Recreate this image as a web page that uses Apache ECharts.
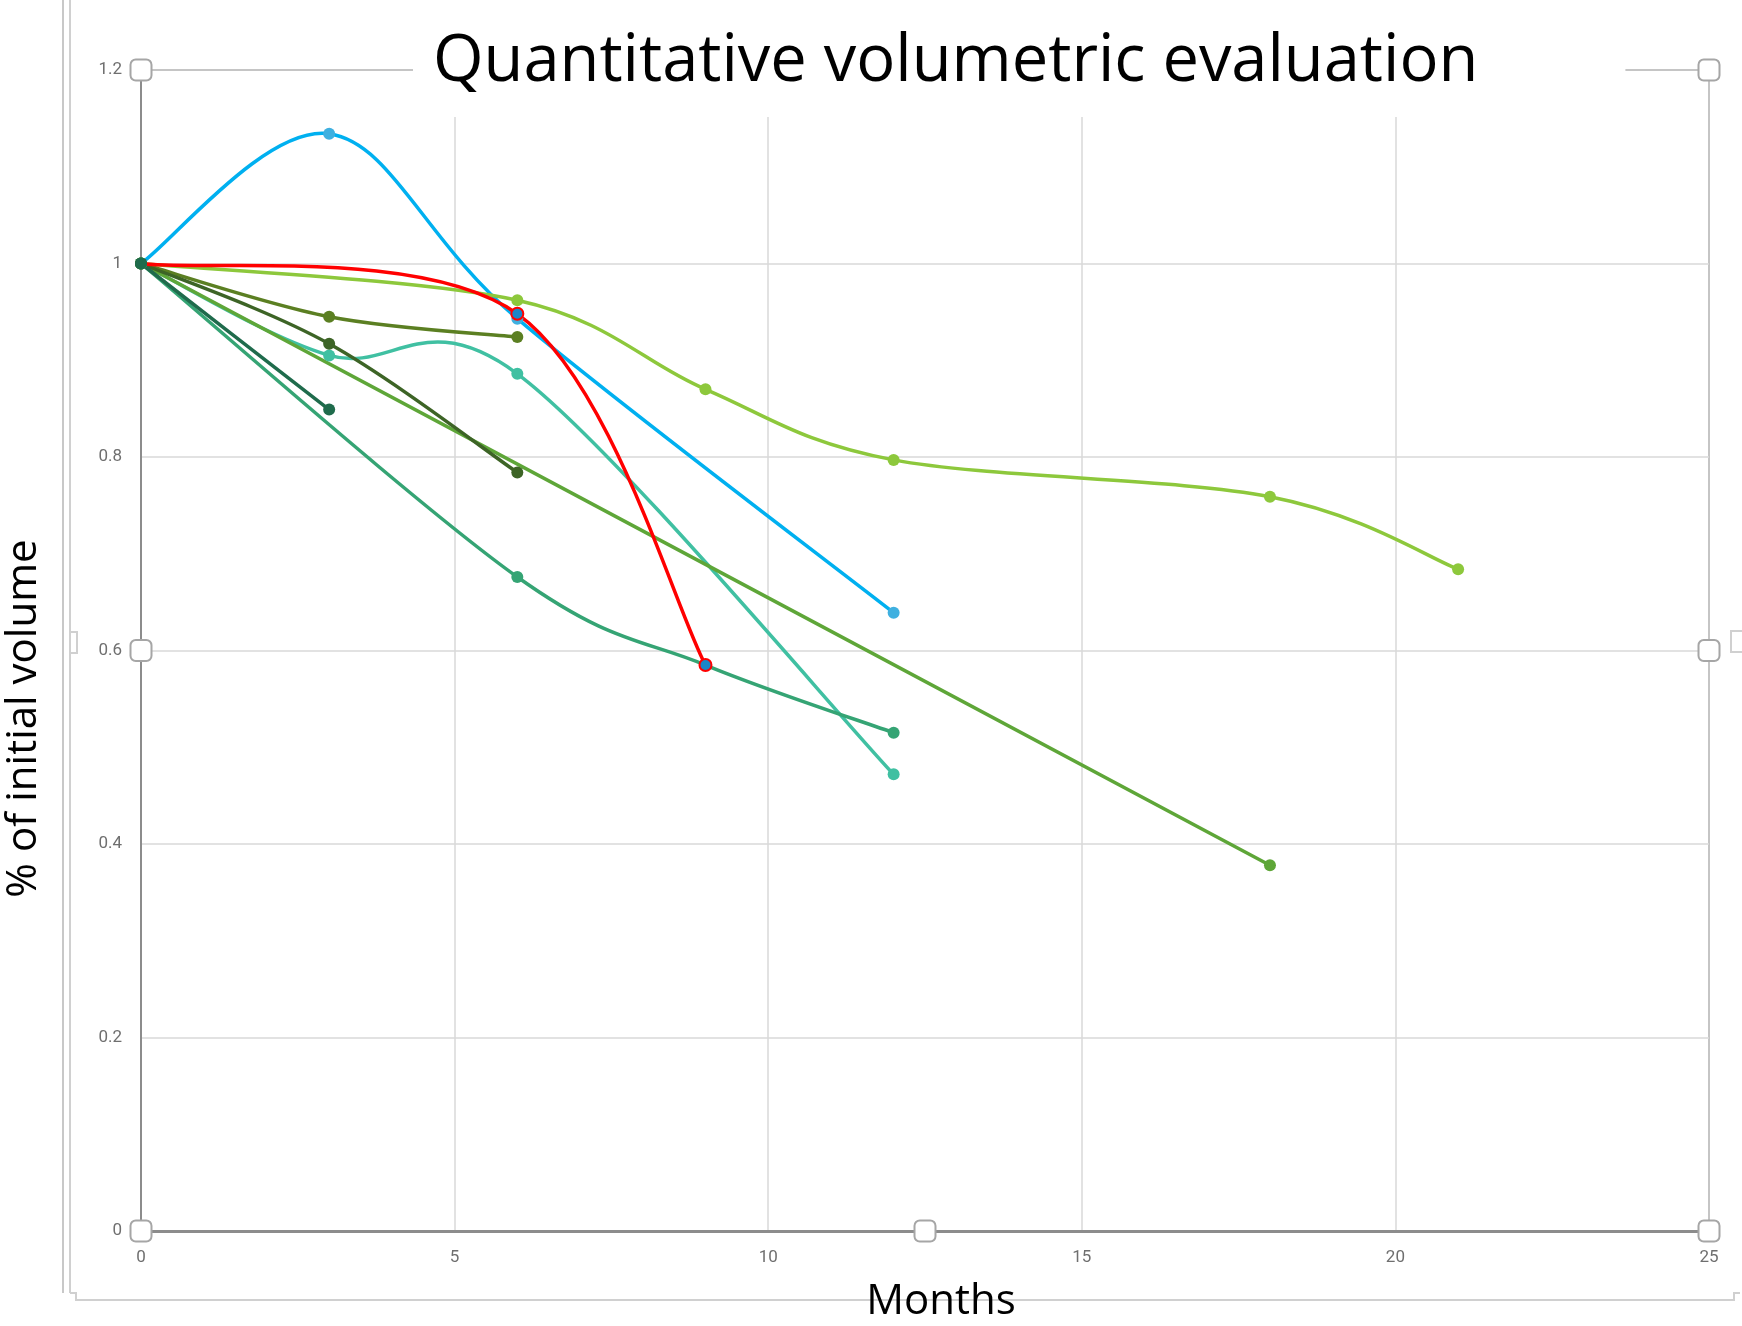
<!DOCTYPE html>
<html>
<head>
<meta charset="utf-8">
<script src="https://cdn.jsdelivr.net/npm/echarts@6/dist/echarts.min.js"></script>
<style>
  html, body { margin: 0; padding: 0; background: #fff; }
  #chart { width: 1742px; height: 1326px; }
</style>
</head>
<body>
<div id="chart"></div>
<script>
// months / relative volume, one array per patient
const blueData = [[0, 1], [3, 1.134], [6, 0.943], [12, 0.639]];
const redData = [[0, 1], [6, 0.948], [9, 0.585]];
const limeData = [[0, 1], [6, 0.962], [9, 0.870], [12, 0.797], [18, 0.759], [21, 0.684]];
const oliveData = [[0, 1], [3, 0.945], [6, 0.924]];
const darkGreenData = [[0, 1], [3, 0.917], [6, 0.784]];
const tealData = [[0, 1], [3, 0.905], [6, 0.886], [12, 0.472]];
const pineData = [[0, 1], [3, 0.849]];
const jadeData = [[0, 1], [6, 0.676], [9, 0.585], [12, 0.515]];
const grassData = [[0, 1], [18, 0.378]];

// selection handles of the plot area (axis coordinates)
const handleData = [[0, 1.2], [25, 1.2], [0, 0.6], [25, 0.6], [0, 0], [12.5, 0], [25, 0]];

const xTicks = [0, 5, 10, 15, 20, 25];
const yTicks = [0, 0.2, 0.4, 0.6, 0.8, 1, 1.2];

// Excel-like smoothed line: Catmull-Rom segments in pixel space, points from the axes
const curve = (pts, color) => ({
    type: 'custom',
    data: pts,
    encode: { x: 0, y: 1 },
    z: 3,
    silent: true,
    renderItem: (params, api) => {
        const i = params.dataIndex;
        if (i >= pts.length - 1) return null;
        const p = (k) => api.coord(pts[Math.max(0, Math.min(pts.length - 1, k))]);
        const p0 = p(i - 1), p1 = p(i), p2 = p(i + 1), p3 = p(i + 2);
        return {
            type: 'bezierCurve',
            shape: {
                x1: p1[0], y1: p1[1],
                x2: p2[0], y2: p2[1],
                cpx1: p1[0] + (p2[0] - p0[0]) / 6,
                cpy1: p1[1] + (p2[1] - p0[1]) / 6,
                cpx2: p2[0] - (p3[0] - p1[0]) / 6,
                cpy2: p2[1] - (p3[1] - p1[1]) / 6
            },
            style: { stroke: color, lineWidth: 3.5, fill: null, lineCap: 'round' }
        };
    }
});

const dots = (pts, itemStyle, size) => ({
    type: 'scatter',
    data: pts,
    symbol: 'circle',
    symbolSize: size || 12,
    itemStyle: Object.assign({ opacity: 1 }, itemStyle),
    z: 3,
    silent: true
});

const chart = echarts.init(document.getElementById('chart'), null, { renderer: 'canvas' });

const axisGray = '#8c8c8c';
const labelStyle = { color: '#6f6f6f', fontSize: 17, fontFamily: '"Liberation Sans Narrow", Roboto, sans-serif' };
const nameFont = '"Open Sans", sans-serif';

const series = [];
const addSeries = (pts, color, marker, size) => {
    series.push(curve(pts, color));
    series.push(dots(pts, marker || { color: color }, size));
};
addSeries(blueData, '#00b0f0', { color: '#3fb0e0' });
addSeries(limeData, '#8dc83c');
addSeries(tealData, '#40c0a2');
addSeries(oliveData, '#5b7f22');
addSeries(grassData, '#5ea638');
addSeries(jadeData, '#35a474');
addSeries(darkGreenData, '#3d6426');
addSeries(pineData, '#1f6b4c');
addSeries(redData, '#ff0000', { color: '#1a86c8', borderColor: '#ff0000', borderWidth: 2 },
    (v) => v[0] === 0 ? 0 : 12);
series.push({
    type: 'scatter',
    data: handleData,
    symbol: 'roundRect',
    symbolSize: 21,
    itemStyle: { color: '#fff', borderColor: '#a6a6a6', borderWidth: 2, opacity: 1 },
    silent: true,
    z: 20
});

chart.setOption({
    animation: false,
    backgroundColor: '#fff',
    title: {
        text: 'Quantitative volumetric evaluation',
        left: 413,
        top: 0,
        padding: [25, 147, 17, 20],
        backgroundColor: '#fff',
        textStyle: {
            fontFamily: nameFont,
            fontSize: 65,
            fontWeight: 'normal',
            color: '#000',
            lineHeight: 75
        },
        z: 10
    },
    grid: {
        left: 141,
        right: 33,
        top: 70,
        bottom: 95,
        outerBoundsMode: 'none',
        show: true,
        borderColor: axisGray,
        borderWidth: 2
    },
    xAxis: {
        type: 'value',
        min: 0,
        max: 25,
        interval: 5,
        name: 'Months',
        nameLocation: 'middle',
        nameGap: 50,
        nameTextStyle: { fontFamily: nameFont, fontSize: 42, color: '#000', padding: [0, 0, 0, 32] },
        axisLine: { show: true, lineStyle: { color: axisGray, width: 3 } },
        axisTick: { show: false },
        axisLabel: Object.assign({ margin: 18, formatter: (v) => xTicks.includes(v) ? String(v) : '' }, labelStyle),
        splitLine: { show: true, lineStyle: { color: '#d9d9d9', width: 1.5 } }
    },
    yAxis: {
        type: 'value',
        min: 0,
        max: 1.2,
        interval: 0.2,
        name: '% of initial volume',
        nameLocation: 'middle',
        nameGap: 96,
        nameRotate: 90,
        nameTextStyle: { fontFamily: nameFont, fontSize: 42, color: '#000', padding: [0, 136, 0, 0] },
        axisLine: { show: true, lineStyle: { color: axisGray, width: 2 } },
        axisTick: { show: false },
        axisLabel: Object.assign({
            margin: 19,
            formatter: (v) => {
                const t = yTicks.find((k) => Math.abs(k - v) < 1e-6);
                return t === undefined ? '' : String(t);
            }
        }, labelStyle),
        splitLine: { show: true, lineStyle: { color: '#d9d9d9', width: 1.5 } }
    },
    graphic: [
        // outer chart-area selection frame
        { type: 'line', shape: { x1: 63, y1: 0, x2: 63, y2: 1293 }, style: { stroke: '#c8c8c8', lineWidth: 2 } },
        { type: 'line', shape: { x1: 70, y1: 0, x2: 70, y2: 1293 }, style: { stroke: '#d0d0d0', lineWidth: 2 } },
        { type: 'polyline', shape: { points: [[70, 1293], [76, 1293], [76, 1300], [1734, 1300], [1734, 1293], [1740, 1293]] }, style: { stroke: '#d0d0d0', lineWidth: 2, fill: null } },
        { type: 'polyline', shape: { points: [[70, 632], [77, 632], [77, 653], [70, 653]] }, style: { stroke: '#d0d0d0', lineWidth: 2, fill: null } },
        { type: 'polyline', shape: { points: [[1742, 631], [1731, 631], [1731, 652], [1742, 652]] }, style: { stroke: '#d0d0d0', lineWidth: 2, fill: null } }
    ],
    series: series
});
</script>
</body>
</html>
